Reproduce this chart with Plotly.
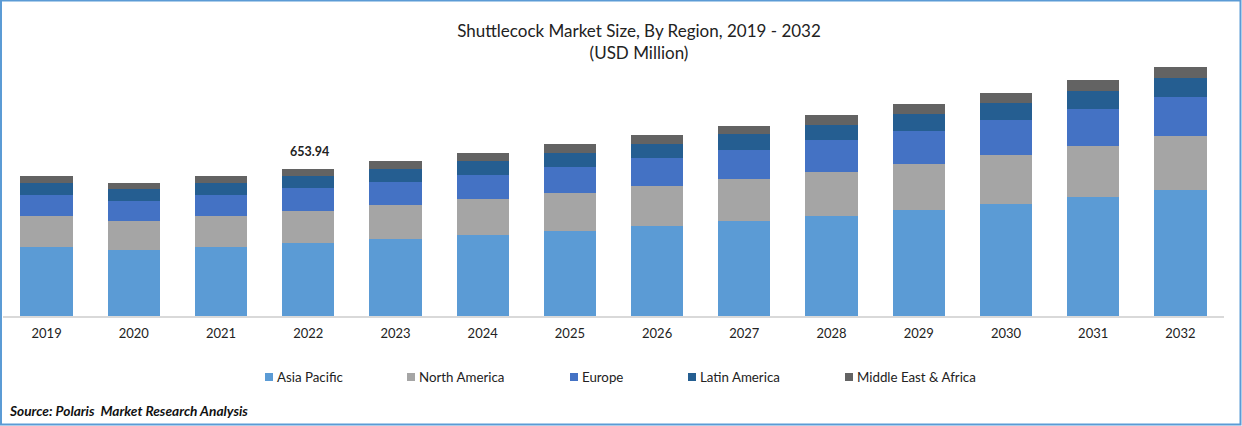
import plotly.graph_objects as go

years = ["2019","2020","2021","2022","2023","2024","2025","2026","2027","2028","2029","2030","2031","2032"]
asia_pacific = [307,294,307,325,343,360,378,400,423,445,472,498,529,561]
north_america = [138,129,138,142,151,160,169,178,187,196,205,218,227,240]
europe = [93,89,93,102,102,107,116,125,129,142,147,156,165,174]
latin_america = [53,53,53,53.5,58,62,62,62,71,67,76,76,80,85]
middle_east_africa = [31,27,31,31.44,36,36,40,40,36,44,44,44,49,49]
series_names = ["Asia Pacific","North America","Europe","Latin America","Middle East & Africa"]
series_values = [asia_pacific,north_america,europe,latin_america,middle_east_africa]
colors = ["#5B9BD5","#A5A5A5","#4472C4","#255E91","#636363"]
legend_px = [265,407,570,688,845]
labelled_year = "2022"
labelled_value = "653.94"
title_text = "Shuttlecock Market Size, By Region, 2019 - 2032<br>(USD Million)"
source_text = "<b><i>Source: Polaris  Market Research Analysis</i></b>"

W, H = 1242, 426
L, R, T, B = 3, 18, 60, 110
FONT = "Lato, Carlito, sans-serif"
pw = W - L - R
ph = H - T - B
px_x = lambda p: (p - L) / pw
px_y = lambda p: 1 - (p - T) / ph

fig = go.Figure()
for i, (n, v, c) in enumerate(zip(series_names, series_values, colors)):
    fig.add_bar(x=years, y=v, name=n, marker=dict(color=c, line=dict(width=0)), hoverinfo="name+y")
    # legend key and label, placed by hand because the reference spacing is uneven
    fig.add_shape(type="rect", xref="paper", yref="paper",
                  x0=px_x(legend_px[i]), x1=px_x(legend_px[i] + 8), y0=px_y(381), y1=px_y(373),
                  line=dict(width=0), fillcolor=c)
    fig.add_annotation(xref="paper", yref="paper", x=px_x(legend_px[i] + 12), y=px_y(376.5), text=n,
                       showarrow=False, xanchor="left", yanchor="middle", xshift=-2,
                       font=dict(family=FONT, size=13.3, color="#222222"))

total = sum(s[years.index(labelled_year)] for s in series_values)
fig.add_annotation(x=years.index(labelled_year), y=total, text=f"<b>{labelled_value}</b>", showarrow=False,
                   xanchor="center", yanchor="bottom", yshift=8, xshift=1,
                   font=dict(family=FONT, size=12.5, color="#222222"))
fig.add_annotation(xref="paper", yref="paper", x=px_x(10), y=px_y(410), text=source_text, showarrow=False,
                   xanchor="left", yanchor="middle", xshift=-3, font=dict(family=FONT, size=13.7, color="#111111"))

border = "#5B9BD5"
fig.add_shape(type="rect", xref="paper", yref="paper",
              x0=px_x(1), x1=px_x(1240.5), y0=px_y(424.5), y1=px_y(0.5),
              line=dict(color=border, width=2), fillcolor="rgba(0,0,0,0)", layer="above")

fig.update_layout(
    width=W, height=H, barmode="stack", bargap=0.4,
    margin=dict(l=L, r=R, t=T, b=B, pad=0, autoexpand=False),
    paper_bgcolor="white", plot_bgcolor="white",
    showlegend=False,
    title=dict(text=title_text, x=639 / W, xref="container", xanchor="center",
               y=1 - 36.5 / H, yanchor="middle",
               font=dict(family=FONT, size=17, color="#222222")),
    xaxis=dict(type="category", categoryarray=years, range=[-0.5, 13.5], showline=True,
               linecolor="#D9D9D9", linewidth=1.5, automargin=False, tickangle=0, ticklabelstandoff=5,
               ticks="", showgrid=False, tickfont=dict(family=FONT, size=13, color="#222222")),
    yaxis=dict(range=[0, (316 - T) * 653.94 / 147], visible=False, showgrid=False, zeroline=False),
)
fig.write_html("out.html", config={"displayModeBar": False},
               post_script="document.body.style.margin='0';")
